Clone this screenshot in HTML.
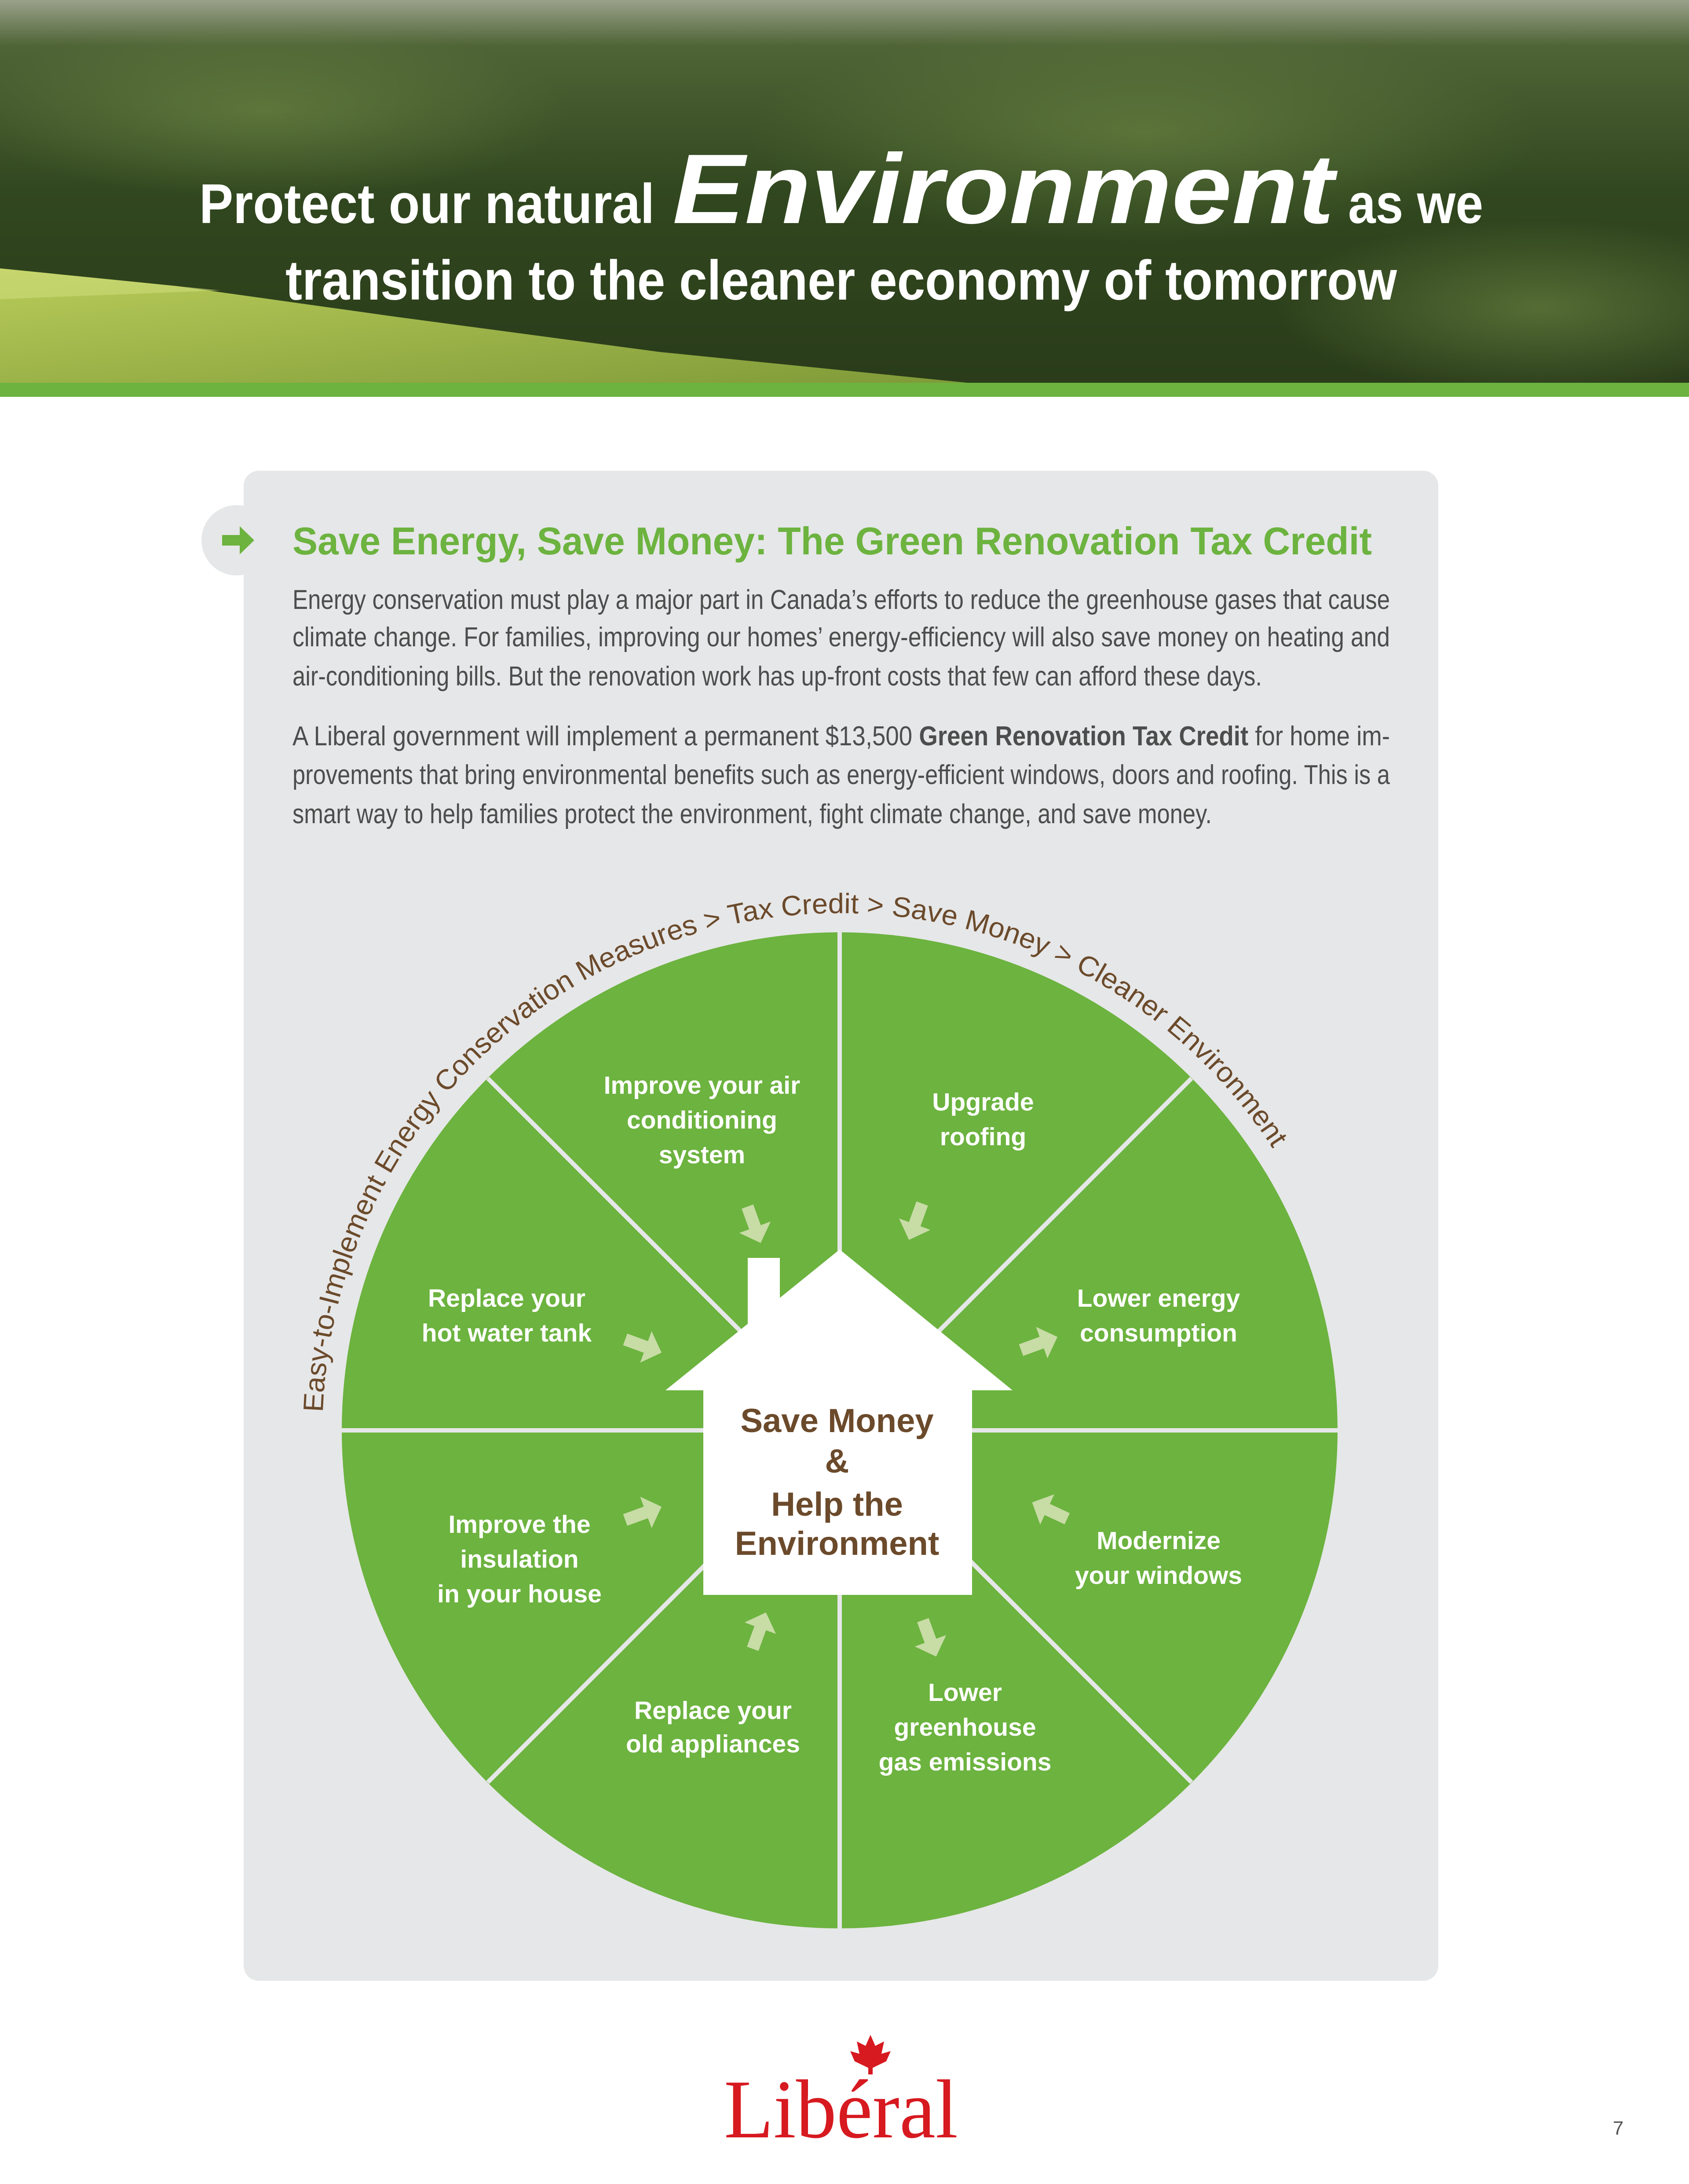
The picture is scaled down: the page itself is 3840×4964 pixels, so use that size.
<!DOCTYPE html>
<html><head><meta charset="utf-8"><style>
html,body{margin:0;padding:0;background:#fff;}
svg{display:block;}
</style></head><body>
<svg width="3840" height="4964" viewBox="0 0 3840 4964" xmlns="http://www.w3.org/2000/svg" font-family="'Liberation Sans', sans-serif">
<defs>
<linearGradient id="sky" x1="0" y1="0" x2="0" y2="1">
<stop offset="0" stop-color="#9aa28a"/><stop offset="0.12" stop-color="#4f6436"/><stop offset="0.5" stop-color="#31471f"/><stop offset="1" stop-color="#2a3c1a"/>
</linearGradient>
<linearGradient id="slope" x1="0" y1="0" x2="1" y2="1">
<stop offset="0" stop-color="#b9cc5a"/><stop offset="1" stop-color="#7f9a38"/>
</linearGradient>
<radialGradient id="blob"><stop offset="0" stop-color="#6f8a45" stop-opacity="0.6"/><stop offset="1" stop-color="#6f8a45" stop-opacity="0"/></radialGradient>
<path id="arc" d="M734,3210 A1175,1175 0 0 1 2894,2611"/>
<path id="arr" d="M-40,-14 L10,-14 L10,-38 L48,0 L10,38 L10,14 L-40,14 Z"/>
</defs>
<!-- header -->
<rect x="0" y="0" width="3840" height="870" fill="url(#sky)"/>
<ellipse cx="600" cy="250" rx="700" ry="200" fill="url(#blob)"/>
<ellipse cx="2600" cy="300" rx="900" ry="250" fill="url(#blob)"/>
<ellipse cx="3500" cy="700" rx="600" ry="200" fill="url(#blob)"/>
<polygon points="0,610 400,650 900,720 1500,800 2200,870 0,870" fill="url(#slope)"/>
<polygon points="0,610 500,660 0,680" fill="#cfdc7a" opacity="0.6"/>
<rect x="0" y="870" width="3840" height="32" fill="#6cb33f"/>
<text x="453" y="507" font-size="127" font-weight="bold" fill="#fff" textLength="1035" lengthAdjust="spacingAndGlyphs">Protect our natural</text>
<text x="1529" y="507" font-size="225" font-weight="bold" font-style="italic" fill="#fff" textLength="1504" lengthAdjust="spacingAndGlyphs">Environment</text>
<text x="3065" y="507" font-size="127" font-weight="bold" fill="#fff" textLength="307" lengthAdjust="spacingAndGlyphs">as we</text>
<text x="649" y="681" font-size="127" font-weight="bold" fill="#fff" textLength="2527" lengthAdjust="spacingAndGlyphs">transition to the cleaner economy of tomorrow</text>
<!-- panel -->
<rect x="554" y="1070" width="2716" height="3432" rx="34" fill="#e6e7e8"/>
<circle cx="538" cy="1228" r="80" fill="#e6e7e8"/>
<path d="M505,1216 L545,1216 L545,1196 L578,1228 L545,1260 L545,1240 L505,1240 Z" fill="#6cb33f"/>
<text x="665" y="1260" font-size="88" font-weight="bold" fill="#6cb33f" textLength="2454" lengthAdjust="spacingAndGlyphs">Save Energy, Save Money: The Green Renovation Tax Credit</text>
<g font-size="62" fill="#4d4d4d">
<text x="665" y="1384" textLength="2495" lengthAdjust="spacingAndGlyphs">Energy conservation must play a major part in Canada’s efforts to reduce the greenhouse gases that cause</text>
<text x="665" y="1469" textLength="2495" lengthAdjust="spacingAndGlyphs">climate change. For families, improving our homes’ energy-efficiency will also save money on heating and</text>
<text x="665" y="1558" textLength="2204" lengthAdjust="spacingAndGlyphs">air-conditioning bills. But the renovation work has up-front costs that few can afford these days.</text>
<text x="665" y="1694" textLength="2495" lengthAdjust="spacingAndGlyphs">A Liberal government will implement a permanent $13,500 <tspan font-weight="bold">Green Renovation Tax Credit</tspan> for home im-</text>
<text x="665" y="1782" textLength="2495" lengthAdjust="spacingAndGlyphs">provements that bring environmental benefits such as energy-efficient windows, doors and roofing. This is a</text>
<text x="665" y="1871" textLength="2090" lengthAdjust="spacingAndGlyphs">smart way to help families protect the environment, fight climate change, and save money.</text>
</g>
<!-- circle -->
<circle cx="1909" cy="3251" r="1132" fill="#6cb33f"/>
<g stroke="#e6e7e8" stroke-width="10">
<line x1="1909" y1="2119" x2="1909" y2="4383"/>
<line x1="777" y1="3251" x2="3041" y2="3251"/>
<line x1="1109" y1="2451" x2="2709" y2="4051"/>
<line x1="2709" y1="2451" x2="1109" y2="4051"/>
</g>
<text font-size="64" fill="#6b4a2b"><textPath href="#arc" textLength="2974" lengthAdjust="spacingAndGlyphs">Easy-to-Implement Energy Conservation Measures &gt; Tax Credit &gt; Save Money &gt; Cleaner Environment</textPath></text>
<!-- house -->
<rect x="1700" y="2859" width="73" height="170" fill="#fff"/>
<polygon points="1909,2840 2302,3160 2210,3160 2210,3625 1599,3625 1599,3160 1513,3160" fill="#fff"/>
<g font-size="76" font-weight="bold" fill="#6b4a2b" text-anchor="middle">
<text x="1903" y="3255">Save Money</text>
<text x="1903" y="3347">&amp;</text>
<text x="1903" y="3445">Help the</text>
<text x="1903" y="3534">Environment</text>
</g>
<!-- labels -->
<g font-size="57" font-weight="bold" fill="#fff" text-anchor="middle">
<text x="1596" y="2486">Improve your air</text><text x="1596" y="2565">conditioning</text><text x="1596" y="2644">system</text>
<text x="2235" y="2524">Upgrade</text><text x="2235" y="2603">roofing</text>
<text x="2634" y="2970">Lower energy</text><text x="2634" y="3049">consumption</text>
<text x="2634" y="3521">Modernize</text><text x="2634" y="3600">your windows</text>
<text x="2194" y="3866">Lower</text><text x="2194" y="3945">greenhouse</text><text x="2194" y="4024">gas emissions</text>
<text x="1621" y="3907">Replace your</text><text x="1621" y="3983">old appliances</text>
<text x="1181" y="3484">Improve the</text><text x="1181" y="3563">insulation</text><text x="1181" y="3642">in your house</text>
<text x="1152" y="2970">Replace your</text><text x="1152" y="3049">hot water tank</text>
</g>
<!-- arrows -->
<g fill="#c8dca6">
<use href="#arr" transform="translate(1713,2780) rotate(70)"/>
<use href="#arr" transform="translate(2083,2773) rotate(110)"/>
<use href="#arr" transform="translate(2359,3055) rotate(-20)"/>
<use href="#arr" transform="translate(2390,3435) rotate(-155)"/>
<use href="#arr" transform="translate(2112,3720) rotate(70)"/>
<use href="#arr" transform="translate(1725,3710) rotate(-70)"/>
<use href="#arr" transform="translate(1459,3441) rotate(-20)"/>
<use href="#arr" transform="translate(1459,3058) rotate(20)"/>
</g>
<!-- logo -->
<path d="M1979,4625 L1990,4650 L2010,4640 L2004,4668 L2025,4662 L2015,4685 L1984,4700 L1984,4715 L1974,4715 L1974,4700 L1943,4685 L1933,4662 L1954,4668 L1948,4640 L1968,4650 Z" fill="#d71920"/>
<text x="1912" y="4858" font-family="'Liberation Serif', serif" font-size="190" fill="#d71920" text-anchor="middle" textLength="532" lengthAdjust="spacingAndGlyphs">Libéral</text>
<text x="3679" y="4852" font-size="44" fill="#555" text-anchor="middle">7</text>
</svg>
</body></html>
